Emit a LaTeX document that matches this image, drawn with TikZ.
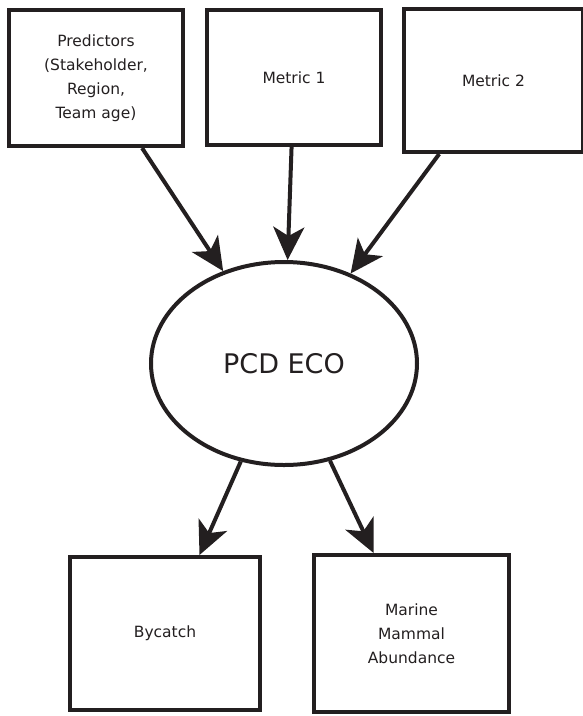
\documentclass[tikz,border=0pt]{standalone}
\usepackage{fontspec}
\setmainfont{DejaVu Sans}
\usetikzlibrary{shapes.geometric}
\usetikzlibrary{arrows.meta}
\definecolor{ink}{HTML}{231F20}
\tikzset{>={Stealth[length=33pt,width=31pt,inset=9pt]}}
\tikzset{box/.style={draw=ink, line width=4pt, rectangle, align=center, text=ink, inner sep=0pt, font=\fontsize{15.5}{24}\selectfont}}
\tikzset{oval/.style={draw=ink, line width=4pt, ellipse, inner sep=0pt, minimum width=266pt, minimum height=203pt, text=ink, font=\fontsize{27}{32}\selectfont}}
\tikzset{arr/.style={->, draw=ink, line width=4pt}}

\begin{document}
\begin{tikzpicture}[x=1pt,y=-1pt]
\useasboundingbox (0,0) rectangle (582,716);

\node[box, minimum width=174pt, minimum height=136pt] (pred) at (96,78) {Predictors\\(Stakeholder,\\Region,\\Team age)};
\node[box, minimum width=174pt, minimum height=135pt] (m1) at (294,77.5) {Metric 1};
\node[box, minimum width=179pt, minimum height=143pt] (m2) at (493.5,80.5) {Metric 2};

\node[oval] (pcd) at (284,363.5) {PCD ECO};

\node[box, minimum width=190pt, minimum height=153pt] (by) at (165,633.5) {Bycatch};
\node[box, minimum width=195pt, minimum height=157pt] (mma) at (411.5,633.5) {Marine\\Mammal\\Abundance};

\draw[arr] (pred) -- (pcd);
\draw[arr] (m1) -- (pcd);
\draw[arr] (m2) -- (pcd);

\draw[arr] (pcd) -- (by);
\draw[arr] (pcd) -- (mma);

\end{tikzpicture}
\end{document}
